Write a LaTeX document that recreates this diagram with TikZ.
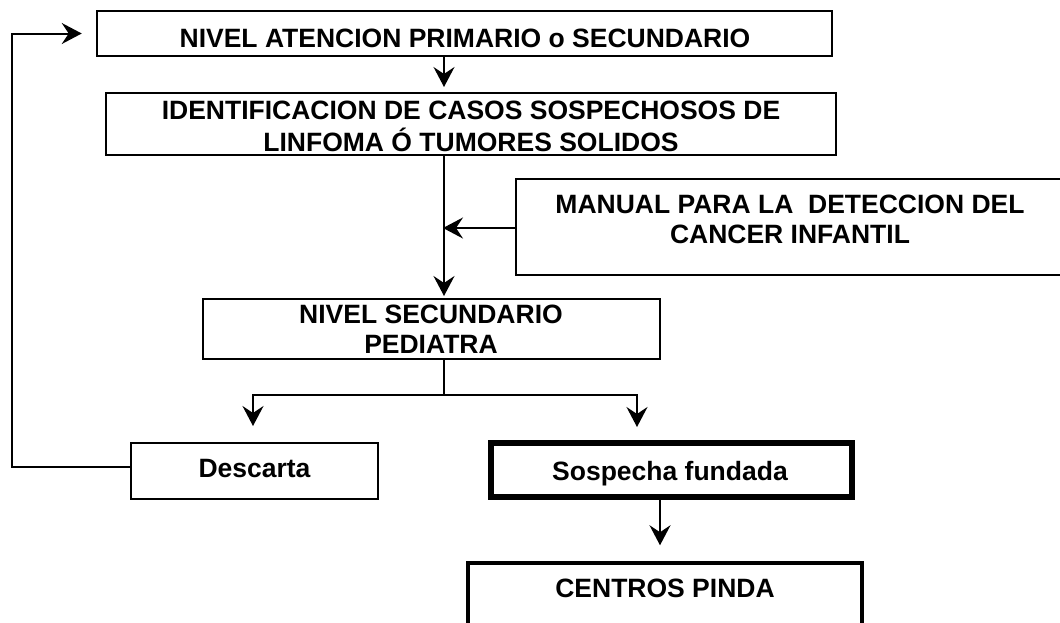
\documentclass[tikz,border=0pt]{standalone}
\usepackage{fontspec}
\setmainfont{Liberation Sans}
\usetikzlibrary{arrows.meta,calc}
\begin{document}
\begin{tikzpicture}[x=1pt,y=-1pt,
  box/.style={draw=black,line width=2pt,rectangle,inner sep=0pt,fill=none},
  txt/.style={font=\fontsize{26.5}{31}\selectfont\bfseries,anchor=base,inner sep=0pt},
  arr/.style={line width=2pt,-{Stealth[length=20pt,width=21pt,inset=7pt]}},
  ln/.style={line width=2pt}]
\useasboundingbox (0,0) rectangle (1060,622);
\fill[white] (0,0) rectangle (1060,622);
% boxes
\node[box,line width=2.5pt,minimum width=735pt,minimum height=45pt] (b1) at (464.5,33.5) {};
\node[box,minimum width=730pt,minimum height=62pt] (b2) at (471,124) {};
\node[box,minimum width=548pt,minimum height=96pt] (bm) at (790,227) {};
\node[box,minimum width=457pt,minimum height=60pt] (bs) at (431.5,329) {};
\node[box,minimum width=247pt,minimum height=56pt] (bd) at (254.5,471) {};
\node[box,line width=6pt,minimum width=361pt,minimum height=54pt] (bf) at (671.5,470) {};
\node[box,line width=3.5pt,minimum width=394pt,minimum height=90pt] (bc) at (665,608) {};
% texts
\node[txt] (t1) at (465,47) {NIVEL ATENCION PRIMARIO o SECUNDARIO};
\node[txt] (t2a) at (471,119) {IDENTIFICACION DE CASOS SOSPECHOSOS DE};
\node[txt] (t2b) at (471,151) {LINFOMA Ó TUMORES SOLIDOS};
\node[txt] (tma) at (790,213) {MANUAL PARA LA\ \ DETECCION DEL};
\node[txt] (tmb) at (790,243) {CANCER INFANTIL};
\node[txt] (tsa) at (431,323) {NIVEL SECUNDARIO};
\node[txt] (tsb) at (431,353) {PEDIATRA};
\node[txt] (td) at (254.5,477) {Descarta};
\node[txt] (tf) at (670,480) {Sospecha fundada};
\node[txt] (tc) at (665,597) {CENTROS PINDA};
% helper coordinates
\coordinate (spine) at (444,0);
\coordinate (split) at (444,395);
\coordinate (fr) at (637,443);
\coordinate (dn) at (660,0);
\coordinate (fbc) at (12,33.5);
% connectors
\draw[arr,shorten >=5pt] (b1.south -| spine) -- (b2.north -| spine);
\draw[arr,shorten >=2pt] (b2.south -| spine) -- (bs.north -| spine);
\draw[arr,shorten >=-1pt] (bm.west |- 0,228) -- (spine |- 0,228);
\draw[ln] (bs.south -| spine) -- (split);
\draw[arr,shorten >=16pt] (split) -| ([xshift=-1.5pt]bd.north);
\draw[arr,shorten >=16pt] (split) -| (fr);
\draw[arr,shorten >=16pt] (bf.south -| dn) -- (bc.north -| dn);
\draw[arr,shorten >=14pt] ([yshift=4pt]bd.west) -| (fbc) -- (b1.west);
\end{tikzpicture}
\end{document}
